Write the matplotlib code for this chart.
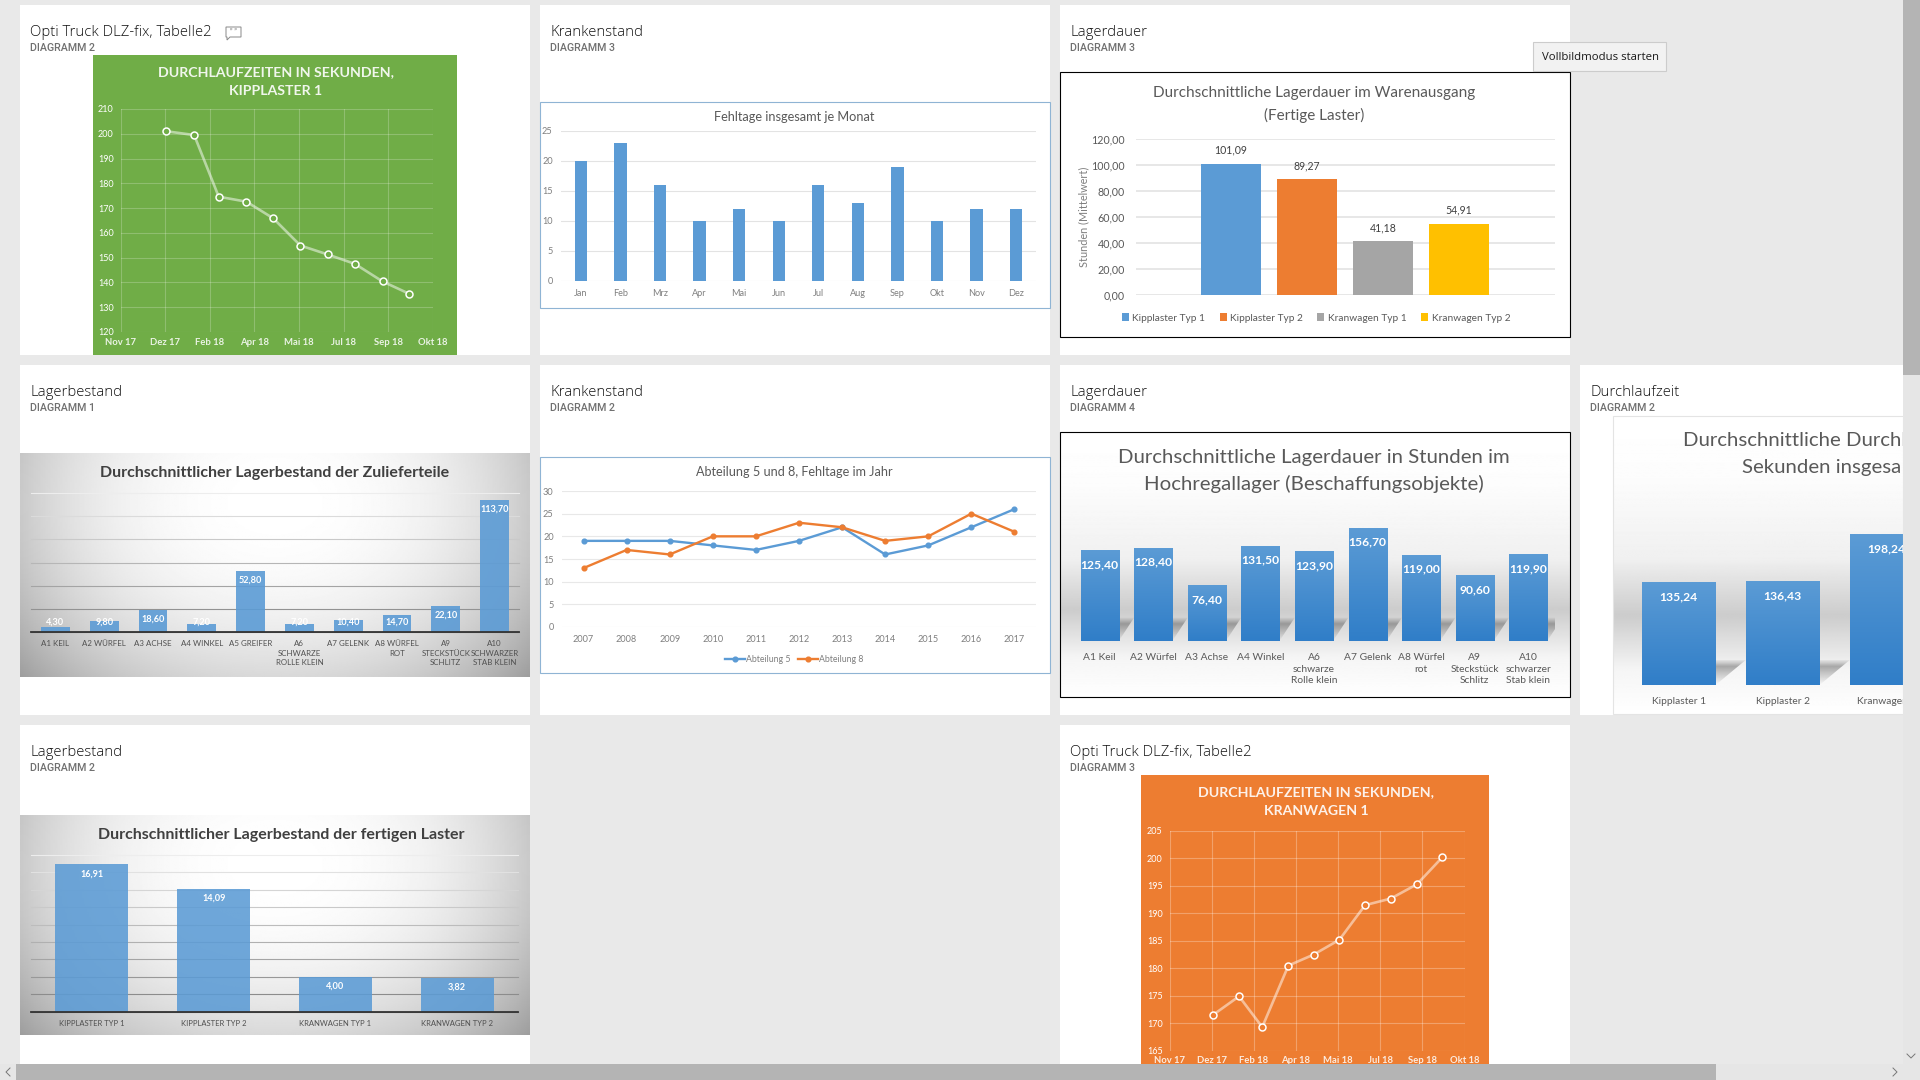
import numpy as np
import matplotlib
matplotlib.use('Agg')
import matplotlib.pyplot as plt
from matplotlib.patches import Rectangle, Polygon

plt.rcParams['font.family'] = ['Lato', 'DejaVu Sans']

W, H = 1920, 1080

# Kleine Diagramme oben links / unten rechts
dlz_ticks = ['Nov 17', 'Dez 17', 'Feb 18', 'Apr 18', 'Mai 18', 'Jul 18', 'Sep 18', 'Okt 18']
dlz_pos = [1.03, 1.65, 2.2, 2.82, 3.42, 4.03, 4.64, 5.25, 5.87, 6.47]
dlz_kipp = [201, 199.5, 174.6, 172.6, 165.9, 154.9, 151.3, 147.5, 140.4, 135.4]
dlz_kran = [171.5, 174.9, 169.3, 180.5, 182.5, 185.2, 191.5, 192.7, 195.3, 200.2]

monate = ['Jan', 'Feb', 'Mrz', 'Apr', 'Mai', 'Jun', 'Jul', 'Aug', 'Sep', 'Okt', 'Nov', 'Dez']
fehltage = [20, 23, 16, 10, 12, 10, 16, 13, 19, 10, 12, 12]

jahre = [2007, 2008, 2009, 2010, 2011, 2012, 2013, 2014, 2015, 2016, 2017]
abt5 = [19, 19, 19, 18, 17, 19, 22, 16, 18, 22, 26]
abt8 = [13, 17, 16, 20, 20, 23, 22, 19, 20, 25, 21]

laster = ['Kipplaster Typ 1', 'Kipplaster Typ 2', 'Kranwagen Typ 1', 'Kranwagen Typ 2']
laster_farben = ['#5B9BD5', '#ED7D31', '#A5A5A5', '#FFC000']
lagerdauer_aus = [101.09, 89.27, 41.18, 54.91]
lagerbestand_laster = [16.91, 14.09, 4.00, 3.82]

teile1 = ['A1 KEIL', 'A2 WÜRFEL', 'A3 ACHSE', 'A4 WINKEL', 'A5 GREIFER', 'A6\nSCHWARZE\nROLLE KLEIN',
          'A7 GELENK', 'A8 WÜRFEL\nROT', 'A9\nSTECKSTÜCK\nSCHLITZ', 'A10\nSCHWARZER\nSTAB KLEIN']
lagerbestand_teile = [4.30, 9.80, 18.60, 7.20, 52.80, 7.20, 10.40, 14.70, 22.10, 113.70]

teile2 = ['A1 Keil', 'A2 Würfel', 'A3 Achse', 'A4 Winkel', 'A6\nschwarze\nRolle klein', 'A7 Gelenk',
          'A8 Würfel\nrot', 'A9\nSteckstück\nSchlitz', 'A10\nschwarzer\nStab klein']
lagerdauer_hoch = [125.40, 128.40, 76.40, 131.50, 123.90, 156.70, 119.00, 90.60, 119.90]

dlz_typen = ['Kipplaster 1', 'Kipplaster 2', 'Kranwagen 1']
dlz_mittel = [135.24, 136.43, 198.24]

karten = [
    (20, 5, 'Opti Truck DLZ-fix, Tabelle2', 'DIAGRAMM 2'),
    (540, 5, 'Krankenstand', 'DIAGRAMM 3'),
    (1060, 5, 'Lagerdauer', 'DIAGRAMM 3'),
    (20, 365, 'Lagerbestand', 'DIAGRAMM 1'),
    (540, 365, 'Krankenstand', 'DIAGRAMM 2'),
    (1060, 365, 'Lagerdauer', 'DIAGRAMM 4'),
    (1580, 365, 'Durchlaufzeit', 'DIAGRAMM 2'),
    (20, 725, 'Lagerbestand', 'DIAGRAMM 2'),
    (1060, 725, 'Opti Truck DLZ-fix, Tabelle2', 'DIAGRAMM 3'),
]

fig = plt.figure(figsize=(19.2, 10.8), dpi=100, facecolor='#E9E9E9')


def px_axes(x0, y0, x1, y1, z):
    ax = fig.add_axes([x0 / W, 1 - y1 / H, (x1 - x0) / W, (y1 - y0) / H], zorder=z)
    ax.patch.set_alpha(0)
    for s in ax.spines.values():
        s.set_visible(False)
    ax.tick_params(length=0)
    return ax


def overlay(z):
    ax = px_axes(0, 0, W, H, z)
    ax.set_xlim(0, W)
    ax.set_ylim(H, 0)
    ax.axis('off')
    return ax


bg = overlay(0)
fg = overlay(5)
top = overlay(10)


def komma(v):
    return '{:.2f}'.format(v).replace('.', ',')


def panel(x0, y0, x1, y1, color='white', edge=None, lw=0.8, image=None):
    bg.add_patch(Rectangle((x0, y0), x1 - x0, y1 - y0, fc=color, ec='none', zorder=2))
    if image is not None:
        ax = px_axes(x0, y0, x1, y1, 1)
        ax.imshow(image, cmap='gray', vmin=0, vmax=1, aspect='auto', extent=[0, 1, 0, 1])
        ax.set_xticks([])
        ax.set_yticks([])
    if edge:
        fg.add_patch(Rectangle((x0, y0), x1 - x0, y1 - y0, fc='none', ec=edge, lw=lw))


def radial_bild():
    yy, xx = np.mgrid[0:1:200j, 0:1:300j]
    r2 = ((xx - 0.5) / 0.5) ** 2 + ((yy - 0.22) / 0.78) ** 2
    return np.clip(1.0 - 0.15 * r2 ** 1.1 - 0.06 * ((xx - 0.5) / 0.5) ** 4, 0, 1)


def glanz_bild():
    t = np.linspace(0, 1, 300)
    v = np.interp(t, [0, 0.2, 0.48, 0.67, 0.85, 1.0], [1, 0.99, 0.94, 0.80, 0.96, 1.0])
    return v[:, None]


def plot_axes(x0, y0, x1, y1, xlim, ylim):
    ax = px_axes(x0, y0, x1, y1, 2)
    ax.set_xlim(*xlim)
    ax.set_ylim(*ylim)
    ax.set_axisbelow(True)
    return ax


def zeit_chart(box, plot, farbe, titel, ticks_y, werte, gridalpha):
    x0, y0, x1, y1 = box
    panel(x0, y0, x1, y1, color=farbe)
    ax = plot_axes(*plot, (0, 7), (ticks_y[0], ticks_y[-1]))
    ax.set_xticks(range(len(dlz_ticks)))
    ax.set_xticklabels(dlz_ticks, fontsize=6.8, color='white', alpha=0.85, fontweight='bold')
    ax.set_yticks(ticks_y)
    ax.tick_params(axis='y', labelsize=6.5, labelcolor='white', pad=5)
    ax.tick_params(axis='x', pad=4)
    ax.grid(True, color='white', alpha=gridalpha, lw=0.8)
    ax.plot(dlz_pos, werte, color='white', alpha=0.5, lw=1.9, zorder=3)
    ax.plot(dlz_pos, werte, ls='none', marker='o', ms=5, mfc=farbe, mec='white', mew=1.1, zorder=4)
    fg.text((x0 + x1) / 2 + 1, y0 + 17, titel[0], color='white', alpha=0.9, fontsize=10.2,
            fontweight='bold', ha='center', va='center')
    fg.text((x0 + x1) / 2 + 1, y0 + 36, titel[1], color='white', alpha=0.9, fontsize=10.2,
            fontweight='bold', ha='center', va='center')


def grau_gitter(ax, ticks):
    # oben fast weiss, nach unten dunkler
    for i, v in enumerate(ticks):
        t = i / max(len(ticks) - 1, 1)
        g = 0.93 - 0.43 * t
        ax.axhline(v, color=(g, g, g), lw=0.8, zorder=1, clip_on=False)


def saeulen_schatten(ax, pos, breite, hoehe, versatz):
    grad = np.zeros((100, 2, 4))
    grad[..., :3] = 0.25
    # imshow-Zeile 0 liegt oben
    grad[..., 3] = np.interp(np.linspace(0, 1, 100), [0, 0.28, 1], [0.0, 0.42, 0.0])[:, None]
    for p in pos:
        l, r = p - breite / 2, p + breite / 2
        poly = Polygon([(l, 0), (r, 0), (r + versatz, hoehe), (l + versatz, hoehe)],
                       transform=ax.transData, fc='none', ec='none')
        ax.add_patch(poly)
        im = ax.imshow(grad, extent=[l, r + versatz, 0, hoehe], aspect='auto', zorder=1)
        im.set_clip_path(poly)


def verlauf_saeulen(ax, pos, werte, breite):
    bars = ax.bar(pos, werte, width=breite, color='#5B9BD5', zorder=2)
    t = np.linspace(0, 1, 60)
    grad = np.ones((60, 1, 3))
    grad[:, 0, 0] = 0x5B / 255 + (0x30 - 0x5B) / 255 * t
    grad[:, 0, 1] = 0x9B / 255 + (0x7E - 0x9B) / 255 * t
    grad[:, 0, 2] = 0xD5 / 255 + (0xC8 - 0xD5) / 255 * t
    for b in bars:
        ax.imshow(grad, extent=[b.get_x(), b.get_x() + b.get_width(), 0, b.get_height()],
                  aspect='auto', zorder=3)


for kx, ky, name, sub in karten:
    bg.add_patch(Rectangle((kx, ky), 510, 350, fc='white', ec='none', zorder=1))
    fg.text(kx + 10, ky + 27, name, fontsize=10.7, color='#111111', va='center', family='Open Sans', fontweight='light')
    fg.text(kx + 10, ky + 43, sub, fontsize=7.7, color='#707070', va='center', family='Roboto', fontweight='medium')

# Kommentar-Symbol neben dem ersten Titel
fg.add_patch(Polygon([(226, 27), (241, 27), (241, 37), (230, 37), (227, 40), (227, 37), (226, 37)],
                     closed=True, fc='white', ec='#888888', lw=0.7))
fg.text(233.5, 31.5, '\u201d \u201d', fontsize=5, color='#666666', ha='center', va='center')

# Kipplaster, gruen
zeit_chart((93, 55, 457, 355), (120.5, 109, 433, 332), '#70AD47',
           ['DURCHLAUFZEITEN IN SEKUNDEN,', 'KIPPLASTER 1'],
           [120, 130, 140, 150, 160, 170, 180, 190, 200, 210], dlz_kipp, 0.22)

# Kranwagen, orange
zeit_chart((1141, 775, 1489, 1075), (1169.5, 831, 1464.6, 1050.7), '#ED7D31',
           ['DURCHLAUFZEITEN IN SEKUNDEN,', 'KRANWAGEN 1'],
           [165, 170, 175, 180, 185, 190, 195, 200, 205], dlz_kran, 0.28)

# Fehltage je Monat
panel(540, 102, 1049.5, 308, edge='#8FB4D4')
ax = plot_axes(561, 131, 1036, 281, (-0.5, 11.5), (0, 25))
ax.bar(range(len(monate)), fehltage, width=0.31, color='#5B9BD5', zorder=3)
ax.set_xticks(range(len(monate)))
ax.set_xticklabels(monate)
ax.set_yticks(range(0, 30, 5))
ax.tick_params(labelsize=6.6, labelcolor='#7F7F7F', pad=6)
ax.grid(axis='y', color='#E3E3E3', lw=0.8)
fg.text(794, 117, 'Fehltage insgesamt je Monat', fontsize=9.2, color='#595959', ha='center', va='center')

# Lagerdauer Warenausgang
panel(1060, 72, 1570, 337, edge='black')
ax = plot_axes(1136, 139, 1555, 295, (-1.25, 4.26), (0, 120))
for i, (lab, col, v) in enumerate(zip(laster, laster_farben, lagerdauer_aus)):
    ax.bar(i, v, width=0.79, color=col, label=lab, zorder=3)
    ax.text(i, v + 6, komma(v), fontsize=7.6, color='#404040', ha='center', va='bottom')
ax.set_xticks([])
ax.set_yticks(range(0, 140, 20))
ax.set_yticklabels([komma(v) for v in range(0, 140, 20)])
ax.tick_params(labelsize=7.7, labelcolor='#595959', pad=8)
ax.grid(axis='y', color='#E3E3E3', lw=1.2)
ax.legend(loc='center', bbox_to_anchor=(1316, 318), bbox_transform=fg.transData, ncols=4, frameon=False,
          fontsize=7.3, labelcolor='#595959', handlelength=0.7, handleheight=0.7, handletextpad=0.35,
          columnspacing=1.4)
fg.text(1084, 217, 'Stunden (Mittelwert)', fontsize=7.8, color='#7F7F7F', rotation=90, ha='center', va='center')
fg.text(1314, 93, 'Durchschnittliche Lagerdauer im Warenausgang', fontsize=11, color='#595959', ha='center', va='center')
fg.text(1314, 115, '(Fertige Laster)', fontsize=11, color='#595959', ha='center', va='center')

# Lagerbestand Zulieferteile
panel(20, 453, 530, 677, image=radial_bild())
ax = plot_axes(31, 493, 519, 632, (-0.5, 9.5), (0, 120))
grau_gitter(ax, list(range(120, -20, -20)))
ax.bar(range(len(teile1)), lagerbestand_teile, width=0.59, color='#5B9BD5', alpha=0.9, zorder=3)
for i, v in enumerate(lagerbestand_teile):
    ax.text(i, max(v - 7.8, 8.1), komma(v), fontsize=6.6, color='white', fontweight='bold',
            ha='center', va='center', zorder=4)
ax.set_xticks(range(len(teile1)))
ax.set_xticklabels(teile1, linespacing=1.4)
ax.set_yticks([])
ax.tick_params(axis='x', labelsize=5.7, labelcolor='#505050', pad=6)
ax.spines['bottom'].set_visible(True)
ax.spines['bottom'].set_color('#333333')
ax.spines['bottom'].set_linewidth(1.3)
ax.spines['bottom'].set_zorder(5)
fg.text(274.5, 473, 'Durchschnittlicher Lagerbestand der Zulieferteile', fontsize=11.5, color='#404040',
        fontweight='bold', ha='center', va='center')

# Fehltage Abteilung 5 und 8
panel(540, 457, 1049.5, 673, edge='#8FB4D4')
ax = plot_axes(562, 491, 1036, 627, (-0.5, 10.5), (0, 30))
ax.plot(range(len(jahre)), abt5, color='#5B9BD5', lw=1.7, marker='o', ms=3.4, label='Abteilung 5', zorder=3)
ax.plot(range(len(jahre)), abt8, color='#ED7D31', lw=1.7, marker='o', ms=3.4, label='Abteilung 8', zorder=4)
ax.set_xticks(range(len(jahre)))
ax.set_xticklabels(jahre)
ax.set_yticks(range(0, 35, 5))
ax.tick_params(labelsize=6.6, labelcolor='#7F7F7F', pad=6)
ax.grid(axis='y', color='#E8E8E8', lw=0.8)
ax.legend(loc='center', bbox_to_anchor=(794, 659.5), bbox_transform=fg.transData, ncols=2, frameon=False,
          fontsize=6.3, labelcolor='#7F7F7F', handlelength=2.3, handletextpad=0.15, columnspacing=0.8)
fg.text(794, 472, 'Abteilung 5 und 8, Fehltage im Jahr', fontsize=9.1, color='#595959', ha='center', va='center')

# Lagerdauer Hochregallager
panel(1060, 432, 1570, 697, edge='black', image=glanz_bild())
ax = plot_axes(1073, 497, 1555, 641, (-0.5, 8.5), (0, 200))
saeulen_schatten(ax, range(len(teile2)), 0.71, 33, 0.29)
verlauf_saeulen(ax, range(len(teile2)), lagerdauer_hoch, 0.71)
ax.set_xlim(-0.5, 8.5)
ax.set_ylim(0, 200)
for i, v in enumerate(lagerdauer_hoch):
    ax.text(i, v - 19, komma(v), fontsize=8.7, color='white', fontweight='bold', ha='center', va='center', zorder=5)
ax.set_xticks(range(len(teile2)))
ax.set_xticklabels(teile2, linespacing=1.35)
ax.set_yticks([])
ax.tick_params(axis='x', labelsize=7.4, labelcolor='#595959', pad=9)
fg.text(1314, 457, 'Durchschnittliche Lagerdauer in Stunden im', fontsize=14.7, color='#595959', ha='center', va='center')
fg.text(1314, 483.5, 'Hochregallager (Beschaffungsobjekte)', fontsize=14.7, color='#595959', ha='center', va='center')

# Durchlaufzeit, rechts abgeschnitten
panel(1613, 416, 1903, 714, edge='#E4E4E4', image=glanz_bild())
ax = plot_axes(1626.7, 495, 1903, 685, (-0.5, 2.157), (0, 250))
saeulen_schatten(ax, range(len(dlz_typen)), 0.71, 33, 0.29)
verlauf_saeulen(ax, range(len(dlz_typen)), dlz_mittel, 0.71)
ax.set_xlim(-0.5, 2.157)
ax.set_ylim(0, 250)
for i, v in enumerate(dlz_mittel):
    ax.text(i, v - 19, komma(v), fontsize=8.7, color='white', fontweight='bold', ha='center', va='center', zorder=5)
ax.set_xticks(range(len(dlz_typen)))
ax.set_xticklabels(dlz_typen)
ax.set_yticks([])
ax.tick_params(axis='x', labelsize=7.4, labelcolor='#595959', pad=9)
fg.text(1683, 440, 'Durchschnittliche Durchl', fontsize=14.7, color='#595959', ha='left', va='center')
fg.text(1742, 467, 'Sekunden insgesa', fontsize=14.7, color='#595959', ha='left', va='center')

# Lagerbestand fertige Laster
panel(20, 815, 530, 1035, image=radial_bild())
ax = plot_axes(31, 855, 518, 1011.7, (-0.5, 3.5), (0, 18))
grau_gitter(ax, list(range(18, -2, -2)))
ax.bar(range(len(laster)), lagerbestand_laster, width=0.6, color='#5B9BD5', alpha=0.88, zorder=3)
for i, v in enumerate(lagerbestand_laster):
    ax.text(i, v - 1.05, komma(v), fontsize=6.6, color='white', fontweight='bold', ha='center', va='center', zorder=4)
ax.set_xticks(range(len(laster)))
ax.set_xticklabels([s.upper() for s in laster])
ax.set_yticks([])
ax.tick_params(axis='x', labelsize=5.5, labelcolor='#505050', pad=6)
ax.spines['bottom'].set_visible(True)
ax.spines['bottom'].set_color('#333333')
ax.spines['bottom'].set_linewidth(1.3)
ax.spines['bottom'].set_zorder(5)
fg.text(281, 835, 'Durchschnittlicher Lagerbestand der fertigen Laster', fontsize=11.5, color='#404040',
        fontweight='bold', ha='center', va='center')

# Tooltip und Bildlaufleisten
top.add_patch(Rectangle((1533, 41.5), 133, 29, fc='#F2F2F2', ec='#CCCCCC', lw=0.8))
top.text(1542, 57, 'Vollbildmodus starten', fontsize=8.2, color='#1A1A1A', va='center', family='Open Sans')
top.add_patch(Rectangle((1903, 0), 17, H, fc='#E6E6E6', ec='none'))
top.add_patch(Rectangle((1903, 0), 17, 375, fc='#B4B4B4', ec='none'))
top.add_patch(Rectangle((0, 1064), 1903, 16, fc='#E6E6E6', ec='none'))
top.add_patch(Rectangle((16, 1064), 1700, 16, fc='#B4B4B4', ec='none'))
top.plot([10, 6, 10], [1068, 1072, 1076], color='#777777', lw=0.7)
top.plot([1893, 1897, 1893], [1068, 1072, 1076], color='#777777', lw=0.7)
top.plot([1907, 1911, 1915], [1054, 1058, 1054], color='#777777', lw=0.7)
top.set_xlim(0, W)
top.set_ylim(H, 0)

fig.savefig('out.png', dpi=100, facecolor=fig.get_facecolor())
